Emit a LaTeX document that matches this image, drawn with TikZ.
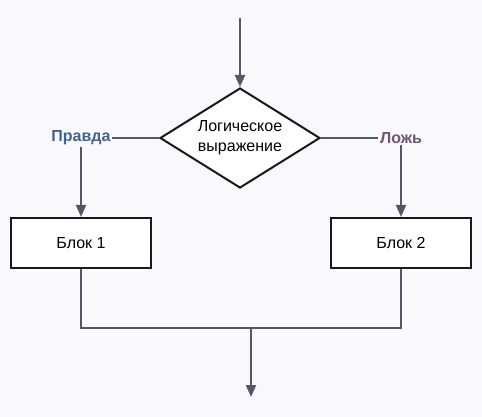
\documentclass[tikz,border=0pt]{standalone}
\usepackage{fontspec}
\setmainfont{Liberation Sans}
\usetikzlibrary{arrows.meta, shapes.geometric}

\definecolor{bgcol}{RGB}{248,248,253}
\definecolor{linecol}{RGB}{83,87,104}
\definecolor{truecol}{RGB}{72,98,140}
\definecolor{falsecol}{RGB}{112,86,114}

\tikzset{
	blockbox/.style={draw=black!90, fill=white, line width=1.5pt, minimum width=105pt, minimum height=37.5pt, inner sep=0pt, font=\fontsize{12}{15}\selectfont},
	condbox/.style={diamond, draw=black!90, fill=white, line width=1.5pt, minimum width=120pt, minimum height=75pt, inner sep=0pt, aspect=1.6, align=center, font=\fontsize{12}{15}\selectfont},
	edgelabel/.style={fill=bgcol, inner sep=1pt, font=\bfseries\fontsize{12}{15}\selectfont},
	flow/.style={draw=linecol, line width=1.5pt},
	flowarrow/.style={flow, -{Triangle[length=9pt, width=7.5pt]}}
}

\begin{document}
\begin{tikzpicture}[x=0.75pt, y=-0.75pt]
			\fill[bgcol] (0, 0) rectangle (482, 417);
			
			\coordinate (start) at (240, 18);
			\coordinate (join) at (251, 328);
			\coordinate (finish) at (251, 397);
			
			\node[condbox] (cond) at (240, 138) {Логическое\\выражение};
			\node[edgelabel, text=truecol] (yes) at (81, 138) {Правда};
			\node[edgelabel, text=falsecol] (no) at (401, 138) {Ложь};
			
			\node[blockbox] (block1) at (81, 243) {Блок 1};
			\node[blockbox] (block2) at (401, 243) {Блок 2};
			
			\draw[flowarrow] (start) -- (cond.north);
			
			\draw[flow] (cond.west) -- (yes.east);
			\draw[flowarrow] (yes.south) -- (block1.north);
			\draw[flow] (cond.east) -- (no.west);
			\draw[flowarrow] (no.south) -- (block2.north);
			
			\draw[flow] (block1.south) |- (join) -| (block2.south);
			\draw[flowarrow] (join) -- (finish);
			
		\end{tikzpicture}
\end{document}
